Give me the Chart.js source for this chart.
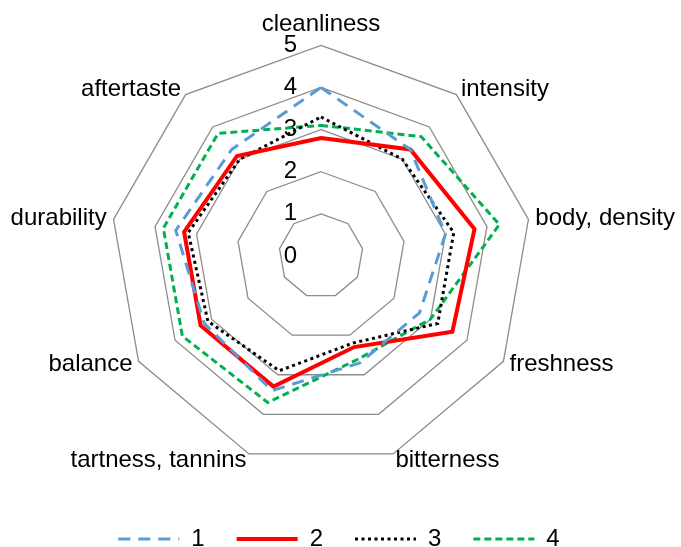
<!DOCTYPE html>
<html lang="en">
<head>
    <meta charset="UTF-8">
    <title>Sensory profile</title>
    <script src="https://cdn.jsdelivr.net/npm/chart.js"></script>
    <style>
        body {
            margin: 0;
            overflow: hidden;
            background-color: #ffffff;
        }
        /* a bit wider than the window so the radar gets the same radius as the original */
        .chart-container {
            position: relative;
            width: 706px;
            height: 547px;
            margin-left: -14px;
        }
    </style>
</head>
<body>
    <div class="chart-container">
        <canvas id="chart-radar"></canvas>
    </div>

    <script>
        const attributes = ['cleanliness', 'intensity', 'body, density', 'freshness', 'bitterness',
            'tartness, tannins', 'balance', 'durability', 'aftertaste'];
        const series1 = [4.0, 3.3, 3.0, 2.7, 2.7, 3.4, 3.2, 3.5, 3.3];
        const series2 = [2.8, 3.3, 3.7, 3.6, 2.3, 3.3, 3.3, 3.3, 3.1];
        const series3 = [3.3, 3.0, 3.2, 3.2, 2.2, 2.9, 3.1, 3.2, 3.0];
        const series4 = [3.1, 3.7, 4.3, 3.0, 2.6, 3.7, 3.8, 3.8, 3.8];
        const ringTicks = [0, 1, 2, 3, 4, 5];

        const fontFamily = 'Arial, "Liberation Sans", sans-serif';

        // tick numbers sit left of the top axis, under the lines
        const tickLabels = {
            id: 'tickLabels',
            beforeDatasetsDraw(chart) {
                const scale = chart.scales.r;
                const ctx = chart.ctx;
                ctx.save();
                ctx.font = '24px ' + fontFamily;
                ctx.fillStyle = '#000000';
                ctx.textAlign = 'right';
                ctx.textBaseline = 'middle';
                ringTicks.forEach(v => {
                    const d = scale.getDistanceFromCenterForValue(v);
                    ctx.fillText(String(v), scale.xCenter - 24, scale.yCenter - d);
                });
                ctx.restore();
            }
        };

        // category names centred vertically on their spoke, like the spreadsheet does
        const axisNames = {
            id: 'axisNames',
            afterDraw(chart) {
                const scale = chart.scales.r;
                const ctx = chart.ctx;
                ctx.save();
                ctx.font = '24px ' + fontFamily;
                ctx.fillStyle = '#000000';
                ctx.textBaseline = 'middle';
                attributes.forEach((name, i) => {
                    const pos = scale.getPointPosition(i, scale.drawingArea + 7);
                    const s = Math.sin(scale.getIndexAngle(i));
                    let y = pos.y;
                    if (Math.abs(s) < 0.01) {
                        ctx.textAlign = 'center';
                        y -= 14;
                    } else {
                        ctx.textAlign = s > 0 ? 'left' : 'right';
                    }
                    ctx.fillText(name, pos.x, y);
                });
                ctx.restore();
            }
        };

        function line(label, data, color, width, dash, cap) {
            return {
                label: label,
                data: data,
                borderColor: color,
                backgroundColor: 'transparent',
                borderWidth: width,
                borderDash: dash,
                borderCapStyle: cap,
                fill: false,
                pointRadius: 0,
                pointHoverRadius: 0
            };
        }

        new Chart(document.getElementById('chart-radar'), {
            type: 'radar',
            data: {
                labels: attributes,
                datasets: [
                    line('1', series1, '#5B9BD5', 3, [12, 8], 'butt'),
                    line('2', series2, '#FF0000', 4, [], 'butt'),
                    line('3', series3, '#000000', 3, [3, 3.5], 'butt'),
                    line('4', series4, '#00B050', 3, [7, 4], 'butt')
                ]
            },
            options: {
                responsive: true,
                maintainAspectRatio: false,
                animation: false,
                layout: {
                    padding: { top: 5, left: 0, right: 0, bottom: -14 }
                },
                scales: {
                    r: {
                        min: 0,
                        max: 5,
                        ticks: { display: false, stepSize: 1 },
                        angleLines: { display: false },
                        grid: { circular: false, color: '#8c8c8c', lineWidth: 1.3 },
                        pointLabels: {
                            // kept for the layout only, drawn by axisNames
                            color: 'rgba(0, 0, 0, 0)',
                            padding: 6,
                            font: { family: fontFamily, size: 24, lineHeight: 1.15 }
                        }
                    }
                },
                plugins: {
                    tooltip: { enabled: false },
                    legend: {
                        position: 'bottom',
                        labels: {
                            color: '#000000',
                            font: { family: fontFamily, size: 24 },
                            usePointStyle: true,
                            pointStyleWidth: 61,
                            padding: 32,
                            generateLabels(chart) {
                                return chart.data.datasets.map((ds, i) => ({
                                    text: ds.label,
                                    fillStyle: ds.borderColor,
                                    strokeStyle: ds.borderColor,
                                    lineWidth: ds.borderWidth,
                                    lineDash: ds.borderDash,
                                    lineCap: ds.borderCapStyle,
                                    pointStyle: 'line',
                                    fontColor: '#000000',
                                    hidden: false,
                                    datasetIndex: i
                                }));
                            }
                        }
                    }
                }
            },
            plugins: [tickLabels, axisNames]
        });
    </script>
</body>
</html>
